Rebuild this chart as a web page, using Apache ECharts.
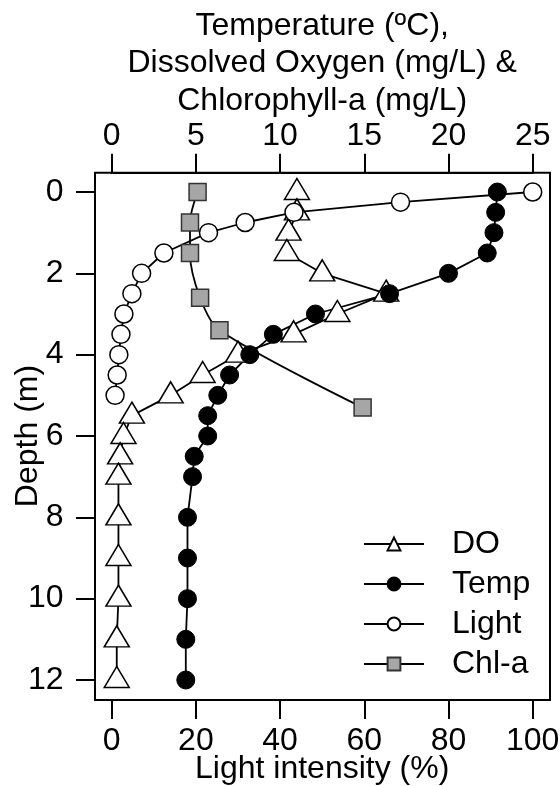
<!DOCTYPE html>
<html>
<head>
<meta charset="utf-8">
<script src="https://cdn.jsdelivr.net/npm/echarts@6/dist/echarts.min.js"></script>
<style>
  html, body { margin: 0; padding: 0; background: #fff; }
  #chart { width: 560px; height: 786px; }
</style>
</head>
<body>
<div id="chart"></div>
<script>
// ---- Data ----
const depthDO   = [0, 0.5, 1, 1.5, 2, 2.5, 3, 3.5, 4, 4.5, 5, 5.5, 6, 6.5, 7, 8, 9, 10, 11, 12];
const doValues  = [11.0, 11.0, 10.5, 10.4, 12.5, 16.3, 13.4, 10.8, 7.5, 5.4, 3.5, 1.2, 0.7, 0.5, 0.4, 0.4, 0.4, 0.4, 0.3, 0.3];

const depthTemp  = [0, 0.5, 1, 1.5, 2, 2.5, 3, 3.5, 4, 4.5, 5, 5.5, 6, 6.5, 7, 8, 9, 10, 11, 12];
const tempValues = [22.9, 22.8, 22.7, 22.3, 20.0, 16.5, 12.1, 9.6, 8.2, 7.0, 6.3, 5.7, 5.7, 4.9, 4.8, 4.5, 4.5, 4.5, 4.4, 4.4];

const depthLight  = [0, 0.25, 0.5, 0.75, 1, 1.5, 2, 2.5, 3, 3.5, 4, 4.5, 5];
const lightValues = [100, 68.6, 43.3, 31.7, 23.0, 12.4, 7.1, 4.8, 2.9, 2.2, 1.7, 1.3, 0.8];

const depthChl  = [0, 0.75, 1.5, 2.6, 3.4, 5.3];
const chlValues = [5.1, 4.65, 4.65, 5.25, 6.4, 14.9];

const topTicks    = [0, 5, 10, 15, 20, 25];
const bottomTicks = [0, 20, 40, 60, 80, 100];
const depthTicks  = [0, 2, 4, 6, 8, 10, 12];

const seriesNames = ['DO', 'Temp', 'Light', 'Chl-a'];
const topAxisName = 'Temperature (\u00BAC),\nDissolved Oxygen (mg/L) &\nChlorophyll-a (mg/L)';
const bottomAxisName = 'Light intensity (%)';
const depthAxisName = 'Depth (m)';

// ---- Helpers ----
function pairs(xs, ys) { return xs.map((x, i) => [x, ys[i]]); }
function first(a) { return a[0]; }
function last(a) { return a[a.length - 1]; }

const FONT = '"Liberation Sans", Arial, Helvetica, sans-serif';
const txt = { color: '#000', fontSize: 32, fontFamily: FONT };
const tickStyle = { show: true, inside: false, length: 19, lineStyle: { color: '#000', width: 2 } };
const axisLineStyle = { show: true, onZero: false, lineStyle: { color: '#000', width: 2 } };

const chart = echarts.init(document.getElementById('chart'), null, { renderer: 'canvas' });

const option = {
  animation: false,
  backgroundColor: '#fff',
  grid: [
    // data area (spans the tick ranges)
    { left: 111.7, right: 27.3, top: 192, bottom: 106, show: false,
      containLabel: false, outerBoundsMode: 'none' },
    // frame box
    { left: 95, right: 10, top: 172.7, bottom: 86, show: true,
      borderColor: '#000', borderWidth: 2, backgroundColor: 'transparent',
      containLabel: false, outerBoundsMode: 'none' }
  ],
  legend: {
    orient: 'vertical', left: 363, top: 528, padding: 0,
    itemWidth: 60, itemHeight: 16, itemGap: 8,
    data: seriesNames,
    textStyle: Object.assign({}, txt, { lineHeight: 32, padding: [0, 0, 0, 23] })
  },
  xAxis: [
    {
      gridIndex: 0, type: 'value', position: 'top', offset: 19.3,
      min: first(topTicks), max: last(topTicks), interval: topTicks[1] - topTicks[0],
      axisLine: axisLineStyle, splitLine: { show: false },
      axisTick: tickStyle,
      axisLabel: Object.assign({}, txt, { margin: 20.5, showMinLabel: true, showMaxLabel: true }),
      name: topAxisName, nameLocation: 'middle', nameGap: 53.2, nameMoveOverlap: false,
      nameTextStyle: Object.assign({}, txt, { lineHeight: 37.5, align: 'center' })
    },
    {
      gridIndex: 0, type: 'value', position: 'bottom', offset: 20,
      min: first(bottomTicks), max: last(bottomTicks), interval: bottomTicks[1] - bottomTicks[0],
      axisLine: axisLineStyle, splitLine: { show: false },
      axisTick: tickStyle,
      axisLabel: Object.assign({}, txt, { margin: 25.5, showMinLabel: true, showMaxLabel: true }),
      name: bottomAxisName, nameLocation: 'middle', nameGap: 53, nameMoveOverlap: false,
      nameTextStyle: Object.assign({}, txt, { lineHeight: 32 })
    },
    { gridIndex: 1, type: 'value', show: false, min: 0, max: 1 }
  ],
  yAxis: [
    {
      gridIndex: 0, type: 'value', inverse: true, offset: 16.7,
      min: first(depthTicks), max: last(depthTicks), interval: depthTicks[1] - depthTicks[0],
      axisLine: axisLineStyle, splitLine: { show: false },
      axisTick: tickStyle,
      axisLabel: Object.assign({}, txt, { margin: 31.5, showMinLabel: true, showMaxLabel: true }),
      name: depthAxisName, nameLocation: 'middle', nameGap: 51, nameMoveOverlap: false,
      nameTextStyle: Object.assign({}, txt, { lineHeight: 32 })
    },
    { gridIndex: 1, type: 'value', show: false, min: 0, max: 1 }
  ],
  series: [
    {
      name: 'DO', type: 'line', xAxisIndex: 0, yAxisIndex: 0, clip: false,
      data: pairs(doValues, depthDO),
      symbol: 'triangle', symbolSize: [25, 21], symbolOffset: [0, -3],
      itemStyle: { color: '#fff', borderColor: '#000', borderWidth: 1.5 },
      lineStyle: { color: '#000', width: 1.8 },
      emphasis: { disabled: true }
    },
    {
      name: 'Temp', type: 'line', xAxisIndex: 0, yAxisIndex: 0, clip: false,
      data: pairs(tempValues, depthTemp),
      symbol: 'circle', symbolSize: 18,
      itemStyle: { color: '#000', borderColor: '#000', borderWidth: 1 },
      lineStyle: { color: '#000', width: 1.8 },
      emphasis: { disabled: true }
    },
    {
      name: 'Light', type: 'line', xAxisIndex: 1, yAxisIndex: 0, clip: false,
      data: pairs(lightValues, depthLight),
      symbol: 'circle', symbolSize: 18,
      itemStyle: { color: '#fff', borderColor: '#000', borderWidth: 1.5 },
      lineStyle: { color: '#000', width: 1.8 },
      emphasis: { disabled: true }
    },
    {
      name: 'Chl-a', type: 'line', xAxisIndex: 0, yAxisIndex: 0, clip: false,
      data: pairs(chlValues, depthChl),
      smooth: 0.3,
      symbol: 'rect', symbolSize: 17,
      itemStyle: { color: '#a6a6a6', borderColor: '#333', borderWidth: 1.5 },
      lineStyle: { color: '#000', width: 1.8 },
      emphasis: { disabled: true }
    }
  ]
};

chart.setOption(option);
</script>
</body>
</html>
